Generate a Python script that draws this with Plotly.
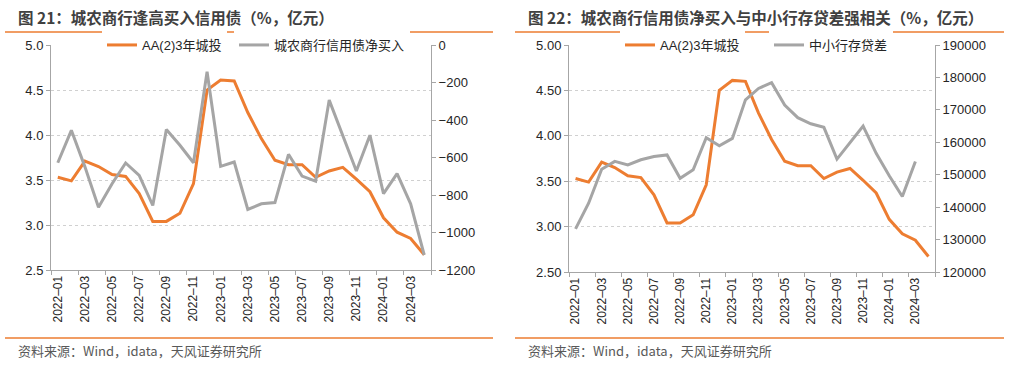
import plotly.graph_objects as go

months = ["2022-01","2022-02","2022-03","2022-04","2022-05","2022-06","2022-07","2022-08","2022-09","2022-10","2022-11","2022-12",
          "2023-01","2023-02","2023-03","2023-04","2023-05","2023-06","2023-07","2023-08","2023-09","2023-10","2023-11","2023-12",
          "2024-01","2024-02","2024-03","2024-04"]

aa2_3y = [3.53, 3.49, 3.71, 3.65, 3.56, 3.54, 3.35, 3.04, 3.04, 3.13, 3.46, 4.50, 4.61, 4.60, 4.25, 3.96, 3.72, 3.67,
          3.67, 3.53, 3.60, 3.64, 3.51, 3.37, 3.08, 2.92, 2.85, 2.67]

rural_net_buy = [-628, -455, -650, -865, -740, -629, -695, -856, -451, -535, -628, -143, -647, -624, -877, -847, -840,
                 -583, -699, -726, -294, -481, -672, -481, -793, -686, -847, -1120]

small_bank_gap = [133300, 141200, 151700, 154100, 153000, 154600, 155600, 156100, 148900, 151500, 161400, 158900,
                  161200, 173100, 176600, 178400, 171500, 167600, 165700, 164600, 154800, 159900, 165000, 156600,
                  149700, 143300, 154100]

tick_labels = [m.replace("-", "–") for m in months[::2]]

ORANGE = "#ED7D31"
GRAY = "#A5A5A5"
AXIS = "#A6A6A6"
GRID = "#D0D0D0"
TXT = "#262626"
FONT = "Liberation Sans, Arial, Noto Sans CJK SC"

W, H = 1012, 367
def px(x): return x / W
def py(y): return 1 - y / H

x_idx = list(range(len(months)))

fig = go.Figure()
fig.add_trace(go.Scatter(x=x_idx, y=aa2_3y, mode="lines", name="AA(2)3年城投",
                         line=dict(color=ORANGE, width=3), xaxis="x", yaxis="y", legend="legend"))
fig.add_trace(go.Scatter(x=x_idx, y=rural_net_buy, mode="lines", name="城农商行信用债净买入",
                         line=dict(color=GRAY, width=3), xaxis="x", yaxis="y2", legend="legend2"))
fig.add_trace(go.Scatter(x=x_idx, y=aa2_3y, mode="lines", name="AA(2)3年城投",
                         line=dict(color=ORANGE, width=3), xaxis="x2", yaxis="y3", legend="legend3"))
fig.add_trace(go.Scatter(x=x_idx[:len(small_bank_gap)], y=small_bank_gap, mode="lines", name="中小行存贷差",
                         line=dict(color=GRAY, width=3), xaxis="x2", yaxis="y4", legend="legend4"))

tickfont = dict(family=FONT, size=13, color=TXT)
xcommon = dict(range=[-0.5, 27.5], tickmode="array", tickvals=x_idx[::2], ticktext=tick_labels,
               tickangle=-90, tickfont=dict(family=FONT, size=12, color=TXT), ticks="", showgrid=False,
               showline=True, linecolor=AXIS, linewidth=1, zeroline=False, fixedrange=True, automargin=False,
               minor=dict(tickmode="array", tickvals=[i - 0.5 for i in range(0, 29, 2)], ticks="outside",
                          ticklen=4, tickcolor=AXIS, tickwidth=1, showgrid=False))

ycommon = dict(showline=True, linecolor=AXIS, linewidth=1, ticks="outside", ticklen=4, tickcolor=AXIS,
               zeroline=False, tickfont=tickfont, automargin=False, fixedrange=True)

legend_common = dict(orientation="h", xanchor="left", yanchor="middle", xref="container", yref="container",
                     bgcolor="white", font=dict(family=FONT, size=13, color=TXT), itemwidth=30,
                     tracegroupgap=0)

fig.update_layout(
    width=W, height=H, autosize=False,
    margin=dict(l=0, r=0, t=0, b=0, autoexpand=False),
    paper_bgcolor="white", plot_bgcolor="white",
    font=dict(family=FONT, color=TXT),
    xaxis=dict(domain=[px(51), px(431)], anchor="y", **xcommon),
    xaxis2=dict(domain=[px(569), px(935)], anchor="y3", **xcommon),
    yaxis=dict(domain=[py(270), py(45)], range=[2.5, 5.0], dtick=0.5, tickformat=".1f",
               showgrid=True, gridcolor=GRID, griddash="dot", gridwidth=1, anchor="x", **ycommon),
    yaxis2=dict(overlaying="y", side="right", anchor="x", range=[-1200, 0], dtick=200,
                showgrid=False, **ycommon),
    yaxis3=dict(domain=[py(272), py(45)], range=[2.5, 5.0], dtick=0.5, tickformat=".2f",
                showgrid=True, gridcolor=GRID, griddash="dot", gridwidth=1, anchor="x2", **ycommon),
    yaxis4=dict(overlaying="y3", side="right", anchor="x2", range=[120000, 190000], dtick=10000,
                tickformat="d", showgrid=False, **ycommon),
    legend=dict(x=px(102), y=py(45), **legend_common),
    legend2=dict(x=px(234), y=py(45), **legend_common),
    legend3=dict(x=px(620), y=py(45), **legend_common),
    legend4=dict(x=px(769), y=py(45), **legend_common),
    showlegend=True,
)

title_font = dict(family="Noto Sans CJK SC, Liberation Sans", size=15.5, color="#404040")
fig.add_annotation(text="<b>图 21：城农商行逢高买入信用债（%，亿元）</b>", x=px(16), y=py(17),
                   xref="paper", yref="paper", xanchor="left", yanchor="middle", showarrow=False, font=title_font)
fig.add_annotation(text="<b>图 22：城农商行信用债净买入与中小行存贷差强相关（%，亿元）</b>", x=px(526), y=py(17),
                   xref="paper", yref="paper", xanchor="left", yanchor="middle", showarrow=False, font=title_font)

src_font = dict(family="Noto Sans CJK SC, Liberation Sans", size=13, color="#595959")
for x0 in (16, 526):
    fig.add_annotation(text="资料来源：Wind，idata，天风证券研究所", x=px(x0), y=py(350),
                       xref="paper", yref="paper", xanchor="left", yanchor="middle", showarrow=False, font=src_font)

for (a, b) in ((5, 493), (515, 1004)):
    for yy in (32, 338):
        fig.add_shape(type="line", xref="paper", yref="paper", x0=px(a), x1=px(b), y0=py(yy), y1=py(yy),
                      line=dict(color=ORANGE, width=1.5))

fig.write_html("out.html", config={"displayModeBar": False},
               post_script="document.body.style.margin='0';document.body.style.padding='0';")
